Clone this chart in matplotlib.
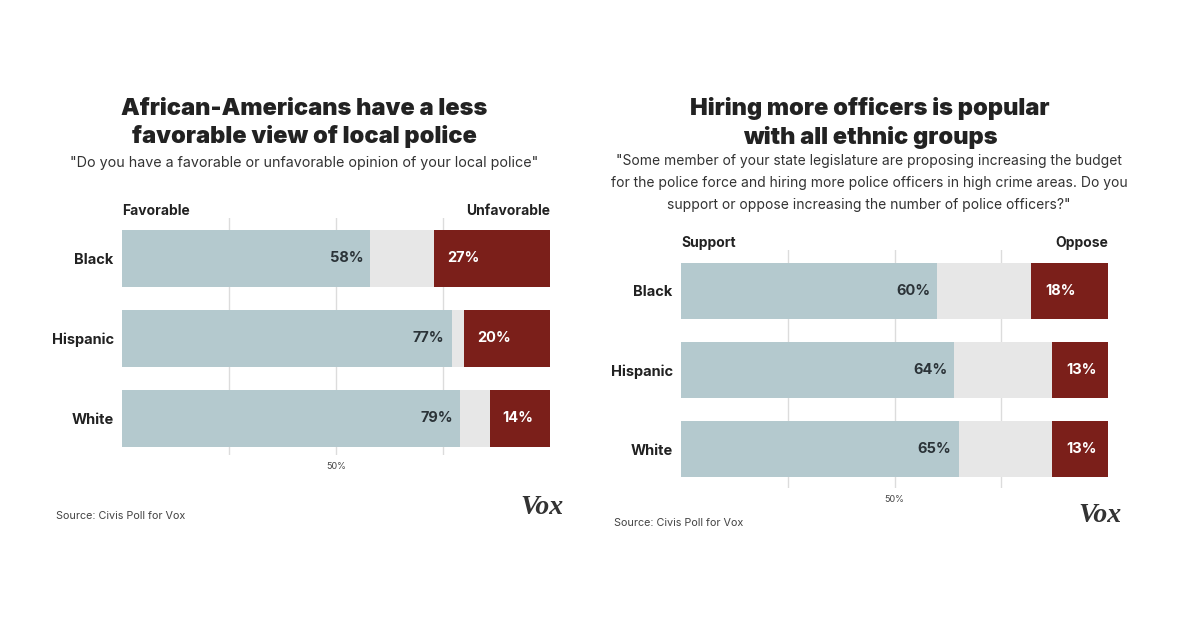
import matplotlib
matplotlib.use("Agg")
import matplotlib.pyplot as plt

plt.rcParams['font.family'] = ['Inter', 'Roboto', 'DejaVu Sans']

groups = ["Black", "Hispanic", "White"]

# left chart: opinion of local police
favorable = [58, 77, 79]
unfavorable = [27, 20, 14]

# right chart: hiring more police officers
support = [60, 64, 65]
oppose = [18, 13, 13]

BLUE = "#b4c9ce"
GREY = "#e7e7e7"
RED = "#7b1f1a"
DARK = "#222222"

W, H = 1179, 640
fig = plt.figure(figsize=(W / 100, H / 100), dpi=100)
fig.patch.set_facecolor("white")


def box(left, top, width, height):
    return [left / W, 1 - (top + height) / H, width / W, height / H]


def px(x, y):
    return x / W, 1 - y / H


def panel(rect, ylim, bar_h, pos, neg, left_lab, right_lab, red_pad):
    ax = fig.add_axes(rect)
    y = list(range(len(groups)))
    for g in (25, 50, 75):
        ax.axvline(g, color="#dcdcdc", lw=1, zorder=0)
    ax.barh(y, [100] * len(y), height=bar_h, color=GREY, zorder=1)
    ax.barh(y, pos, height=bar_h, color=BLUE, zorder=2)
    ax.barh(y, neg, left=[100 - n for n in neg], height=bar_h, color=RED, zorder=2)
    for i in y:
        ax.annotate(f"{pos[i]}%", (pos[i], i), xytext=(-5, 0), textcoords="offset points",
                    ha="right", va="center", fontsize=10.5, fontweight="bold", color="#2b3338", zorder=3)
        ax.annotate(f"{neg[i]}%", (100 - neg[i], i), xytext=(red_pad, 0), textcoords="offset points",
                    ha="left", va="center", fontsize=10.5, fontweight="bold", color="white", zorder=3)
    ax.annotate("50%", (50, 0), xycoords=("data", "axes fraction"), xytext=(0, -8),
                textcoords="offset points", ha="center", va="center", fontsize=6.5, color="#444444")
    ax.text(0, 1, left_lab, transform=ax.transAxes, ha="left", va="bottom",
            fontsize=10, fontweight="bold", color=DARK)
    ax.text(1, 1, right_lab, transform=ax.transAxes, ha="right", va="bottom",
            fontsize=10, fontweight="bold", color=DARK)
    ax.set_xlim(0, 100)
    ax.set_ylim(*ylim)
    ax.set_yticks(y)
    ax.set_yticklabels(groups, fontsize=10.5, fontweight="bold", color=DARK)
    ax.tick_params(axis="y", length=0, pad=6)
    ax.set_xticks([])
    for s in ax.spines.values():
        s.set_visible(False)
    return ax


panel(box(122, 218, 428, 237), (2.46, -0.506), 0.71, favorable, unfavorable,
      "Favorable", "Unfavorable", 9)
panel(box(681, 250, 427, 238), (2.486, -0.517), 0.707, support, oppose,
      "Support", "Oppose", 10)

# titles
fig.text(*px(304, 123), "African-Americans have a less\nfavorable view of local police",
         ha="center", va="center", fontsize=17, fontweight="black", color=DARK, linespacing=1.3)
fig.text(*px(304, 163), "\"Do you have a favorable or unfavorable opinion of your local police\"",
         ha="center", va="center", fontsize=10.3, color="#333333")
fig.text(*px(870, 123), "Hiring more officers is popular\nwith all ethnic groups",
         ha="center", va="center", fontsize=17, fontweight="black", color=DARK, linespacing=1.3)
fig.text(*px(869, 183),
         "\"Some member of your state legislature are proposing increasing the budget\n"
         "for the police force and hiring more police officers in high crime areas. Do you\n"
         "support or oppose increasing the number of police officers?\"",
         ha="center", va="center", fontsize=10, color="#333333", linespacing=1.7)

# source + logo
fig.text(*px(56, 516), "Source: Civis Poll for Vox", ha="left", va="center", fontsize=7.8, color="#444444")
fig.text(*px(614, 523), "Source: Civis Poll for Vox", ha="left", va="center", fontsize=7.8, color="#444444")
fig.text(*px(542, 507), "Vox", ha="center", va="center", fontsize=20, fontweight="bold",
         style="italic", family="Liberation Serif", color="#333333")
fig.text(*px(1100, 515), "Vox", ha="center", va="center", fontsize=20, fontweight="bold",
         style="italic", family="Liberation Serif", color="#333333")

fig.savefig("out.png", dpi=100, facecolor="white")
